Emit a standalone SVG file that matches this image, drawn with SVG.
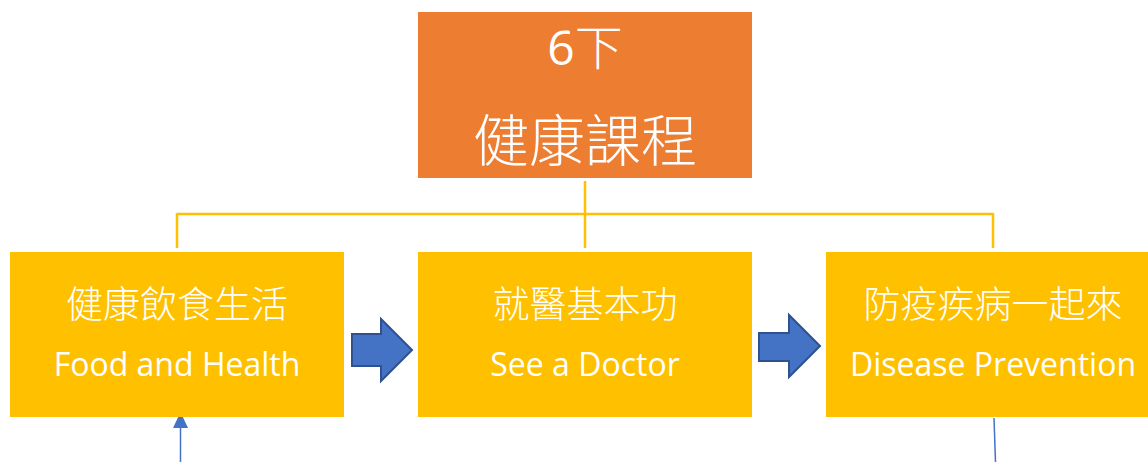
<svg xmlns="http://www.w3.org/2000/svg" width="1148" height="462" viewBox="0 0 1148 462">
<defs>
<style>
.box{fill:#FFC000;}
.top{fill:#ED7D31;}
.t{fill:#fff;text-anchor:middle;font-family:"Open Sans","Noto Sans","Noto Sans CJK TC",sans-serif;}
.cjk{fill:#fff;text-anchor:middle;font-family:"Noto Sans CJK TC","Noto Sans CJK SC",sans-serif;font-weight:300;}
.conn{stroke:#FFC000;stroke-width:2.5;fill:none;}
.blk{fill:#4472C4;stroke:#2F528F;stroke-width:2;}
.thin{stroke:#4472C4;stroke-width:1.5;fill:none;}
</style>
</defs>
<g id="connectors">
<path class="conn" d="M585,181 V248 M177,214 H993 M177,213 V248 M993,213 V248"/>
<path class="blk" d="M352,334 H381 V319 L412,350 L381,381 V366 H352 Z"/>
<path class="blk" d="M759,333 H789 V315 L820,346 L789,377 V361 H759 Z"/>
<line x1="180.5" y1="462" x2="180.5" y2="428" class="thin"/>
<path d="M173,428 L180.5,412 L188,428 Z" fill="#4472C4"/>
<line x1="994" y1="418" x2="995.5" y2="462" class="thin"/>
</g>
<g id="top">
<rect class="top" x="418" y="12" width="334" height="166"/>
<text class="t" x="585" y="65" font-size="48">6<tspan class="cjk" font-size="48">下</tspan></text>
<text class="cjk" x="585" y="161" font-size="56">健康課程</text>
</g>
<g id="food">
<rect class="box" x="10" y="252" width="334" height="165"/>
<text class="cjk" x="177" y="318" font-size="37">健康飲食生活</text>
<text class="t" x="177" y="376" font-size="32">Food and Health</text>
</g>
<g id="doctor">
<rect class="box" x="418" y="252" width="334" height="165"/>
<text class="cjk" x="585" y="318" font-size="37">就醫基本功</text>
<text class="t" x="585" y="376" font-size="32">See a Doctor</text>
</g>
<g id="disease">
<rect class="box" x="826" y="252" width="340" height="165"/>
<text class="cjk" x="993" y="318" font-size="37">防疫疾病一起來</text>
<text class="t" x="993" y="376" font-size="32">Disease Prevention</text>
</g>
</svg>
